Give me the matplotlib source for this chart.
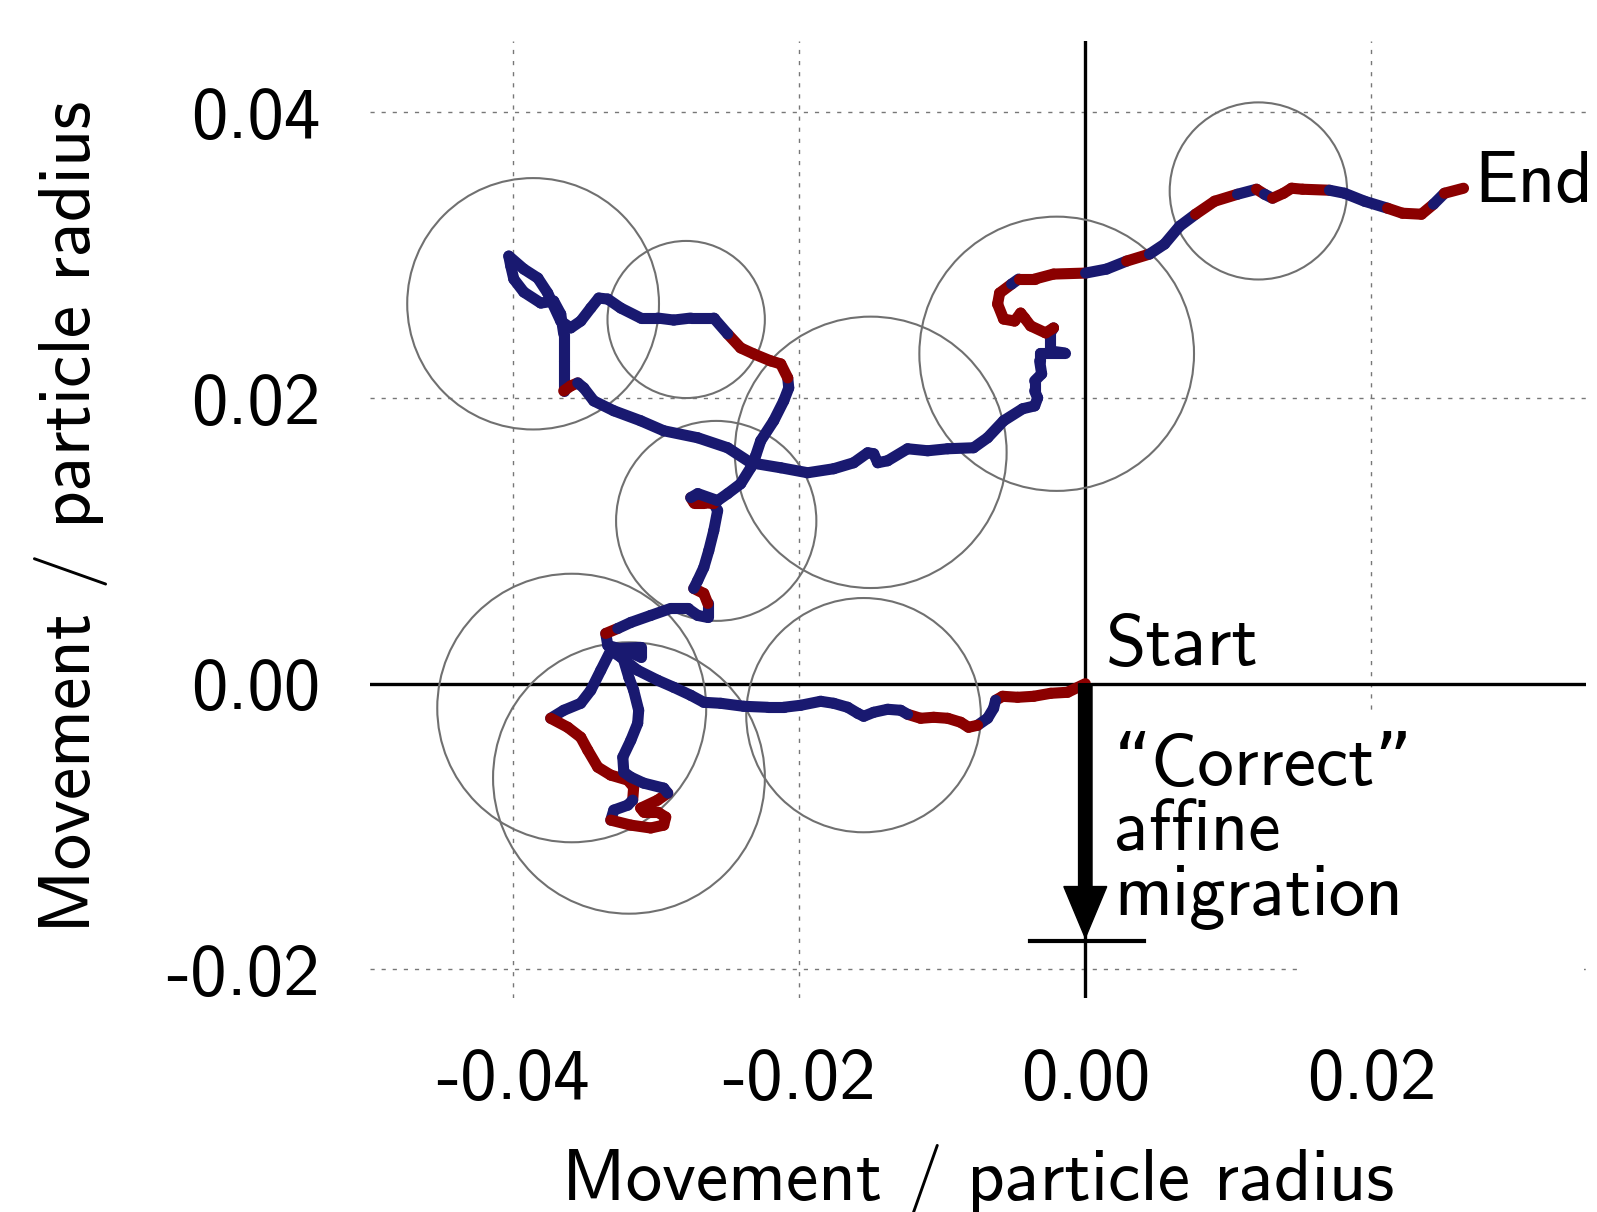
import matplotlib
matplotlib.use("Agg")
import matplotlib.pyplot as plt
import numpy as np
from matplotlib.collections import LineCollection
from matplotlib.patches import Circle, Rectangle

plt.rcParams["font.family"] = ["cmss10", "DejaVu Sans"]
plt.rcParams["axes.unicode_minus"] = False

# particle track, in 1e-3 particle radius
traj_x = [0.00, -1.24, -2.42, -3.61, -4.73, -5.78, -6.27, -6.41, -6.83, -7.53,
          -8.16, -8.71, -9.62, -10.60, -11.51, -12.42, -12.91, -13.82, -14.79, -15.49,
          -15.91, -16.61, -17.59, -18.50, -19.90, -21.08, -22.20, -23.88, -25.49, -26.67,
          -27.58, -28.77, -29.89, -31.29, -32.47, -33.17, -33.87, -34.57, -35.27, -36.46,
          -37.37, -36.18, -35.27, -34.78, -34.08, -33.17, -31.98, -31.57, -31.64, -31.98,
          -32.96, -33.17, -31.77, -30.38, -29.47, -29.33, -29.89, -30.87, -31.08, -29.89,
          -29.19, -29.47, -30.87, -31.77, -32.26, -32.33, -31.77, -31.29, -31.22, -31.57,
          -31.91, -32.33, -32.68, -31.08, -31.08, -32.12, -33.38, -33.52, -32.68, -31.77,
          -30.38, -28.98, -27.79, -27.09, -26.39, -26.39, -26.67, -27.37, -27.09, -26.67,
          -26.32, -25.97, -25.70, -25.97, -26.67, -27.37, -27.58, -27.09, -25.70, -25.00,
          -24.09, -23.39, -23.04, -22.69, -21.78, -21.08, -20.73, -20.80, -21.29, -21.99,
          -23.18, -24.09, -25.00, -25.97, -27.58, -28.77, -29.89, -31.08, -32.47, -33.38,
          -34.01, -34.57, -35.27, -35.97, -36.67, -37.58, -38.27, -39.25, -40.30, -40.16,
          -39.95, -39.25, -38.06, -37.16, -36.67, -36.46, -36.46, -36.46, -35.97, -35.48,
          -35.06, -34.36, -32.96, -31.08, -29.47, -27.09, -25.00, -23.39, -21.29, -19.41,
          -17.59, -16.19, -15.21, -14.79, -14.51, -13.82, -12.42, -11.02, -9.62, -7.81,
          -6.83, -5.71, -4.38, -3.54, -3.33, -3.54, -3.54, -3.05, -3.19, -3.19,
          -1.45, -2.49, -2.49, -2.22, -2.77, -3.82, -4.24, -4.52, -4.94, -5.71,
          -6.13, -5.99, -5.15, -4.66, -3.54, -2.22, 0.02, 1.49, 2.89, 4.49,
          5.54, 6.59, 7.71, 9.04, 10.64, 11.97, 12.53, 13.09, 13.86, 14.42,
          15.19, 17.07, 18.12, 19.52, 21.13, 22.17, 23.50, 24.34, 25.11, 26.44]
traj_y = [0.00, -0.60, -0.67, -0.88, -0.95, -0.88, -1.16, -1.72, -2.42, -2.91,
          -3.05, -2.70, -2.42, -2.35, -2.42, -2.14, -1.86, -1.79, -2.00, -2.28,
          -2.07, -1.65, -1.37, -1.23, -1.51, -1.65, -1.65, -1.58, -1.37, -1.30,
          -0.81, -0.25, 0.24, 0.94, 1.86, 2.33, 0.94, -0.46, -1.37, -1.86,
          -2.42, -3.05, -3.75, -4.65, -5.84, -6.40, -6.75, -7.24, -8.15, -8.50,
          -8.85, -9.55, -9.90, -10.10, -9.90, -9.34, -8.99, -8.99, -8.71, -8.15,
          -7.66, -7.31, -6.96, -6.54, -6.19, -5.14, -3.96, -2.77, -1.86, -0.46,
          0.45, 1.86, 2.47, 2.54, 1.86, 2.33, 2.68, 3.52, 3.87, 4.29,
          4.78, 5.27, 5.27, 4.78, 4.64, 5.62, 6.32, 6.67, 7.23, 8.13,
          9.32, 10.72, 12.12, 12.61, 12.68, 12.68, 13.03, 13.31, 12.82, 13.31,
          14.00, 15.12, 15.96, 17.01, 18.41, 19.80, 20.71, 21.41, 22.39, 22.60,
          23.09, 23.51, 24.49, 25.60, 25.60, 25.46, 25.60, 25.60, 26.30, 26.93,
          27.00, 26.30, 25.39, 24.91, 25.39, 27.35, 28.40, 29.03, 29.94, 29.24,
          28.33, 27.42, 26.65, 26.79, 25.88, 24.49, 22.60, 20.50, 20.85, 21.06,
          20.71, 19.80, 19.11, 18.41, 17.71, 17.22, 16.52, 15.47, 15.12, 14.77,
          15.05, 15.47, 16.17, 16.10, 15.47, 15.61, 16.45, 16.31, 16.45, 16.52,
          17.22, 18.41, 19.25, 19.45, 20.01, 20.50, 21.20, 21.69, 22.60, 23.16,
          23.16, 23.30, 24.49, 24.91, 24.56, 25.05, 25.60, 25.95, 25.39, 25.53,
          26.58, 27.35, 27.98, 28.33, 28.33, 28.68, 28.75, 29.03, 29.59, 30.08,
          30.78, 32.03, 32.87, 33.78, 34.27, 34.62, 34.27, 33.99, 34.34, 34.69,
          34.62, 34.55, 34.34, 33.78, 33.29, 32.94, 32.87, 33.57, 34.34, 34.69]
# stretches of the track drawn in red (first and last point index)
red_spans = [(0, 6), (9, 15), (40, 48), (51, 60), (77, 78), (85, 87), (93, 96),
             (107, 112), (137, 139), (173, 182), (183, 186), (188, 189),
             (192, 194), (195, 196), (197, 201), (204, 207), (208, 209)]

circ_x = [-0.0386, -0.0279, -0.0258, -0.0150, -0.0020, 0.0121, -0.0359, -0.0319, -0.0155]
circ_y = [0.0266, 0.0255, 0.0114, 0.0162, 0.0231, 0.0345, -0.0017, -0.0066, -0.0022]
circ_r = [0.0088, 0.0055, 0.0070, 0.0095, 0.0096, 0.0062, 0.0094, 0.0095, 0.0082]

affine_end = -0.0178
xticks = [-0.04, -0.02, 0.00, 0.02]
xtick_labels = ["-0.04", "-0.02", "0.00", "0.02"]
yticks = [-0.02, 0.00, 0.02, 0.04]
ytick_labels = ["-0.02", "0.00", "0.02", "0.04"]

BLUE = "#191970"
RED = "#8b0000"
FS = 52.5

fig = plt.figure(figsize=(15.97, 12.12), dpi=100)
ax = fig.add_axes([0.2317, 0.1766, 0.7614, 0.7896])
ax.set_xlim(-0.05, 0.035)
ax.set_ylim(-0.022, 0.045)
for s in ax.spines.values():
    s.set_visible(False)

ax.set_xticks(xticks, xtick_labels, fontsize=FS)
ax.set_yticks(yticks, ytick_labels, fontsize=FS)
ax.tick_params(length=0, pad=36)
ax.grid(True, color="#777777", lw=1.0, ls=(0, (3, 5)), zorder=0)
ax.set_axisbelow(True)

# blank patch in the lower right, as in the original
ax.add_patch(Rectangle((0.762, 0.0), 0.236, 0.301, transform=ax.transAxes,
                       facecolor="white", edgecolor="none", zorder=0.8))

ax.axhline(0, color="black", lw=2.4, zorder=1)
ax.axvline(0, color="black", lw=2.4, zorder=1)

for cx, cy, r in zip(circ_x, circ_y, circ_r):
    ax.add_patch(Circle((cx, cy), r, fill=False, edgecolor="#707070", lw=1.5, zorder=2))

pts = np.column_stack([traj_x, traj_y]) / 1000.0
segs = np.stack([pts[:-1], pts[1:]], axis=1)
cols = [BLUE] * len(segs)
for a, b in red_spans:
    for i in range(a, b):
        cols[i] = RED
lc = LineCollection(segs, colors=cols, linewidths=8, capstyle="round",
                    joinstyle="round", zorder=3)
ax.add_collection(lc)

ax.arrow(0, 0, 0, affine_end, width=0.00094, head_width=0.0030, head_length=0.0036,
         length_includes_head=True, color="black", zorder=4)
ax.plot([-0.0039, 0.0041], [affine_end - 0.0002] * 2, color="black", lw=3, zorder=4)

ax.text(0.0014, 0.0013, "Start", fontsize=FS, ha="left", va="baseline", zorder=5)
ax.text(0.0272, 0.0337, "End", fontsize=FS, ha="left", va="baseline", zorder=5)
ax.text(0.0020, -0.0035, "\u201cCorrect\u201d\naffine\nmigration", fontsize=FS,
        ha="left", va="top", linespacing=1.0, zorder=5)

fig.text(0.6124, 0.010, "Movement / particle radius", fontsize=FS,
         ha="center", va="baseline")
fig.text(0.021, 0.5734, "Movement / particle radius", fontsize=FS,
         ha="left", va="center", rotation=90)

fig.savefig("out.png", dpi=100)
